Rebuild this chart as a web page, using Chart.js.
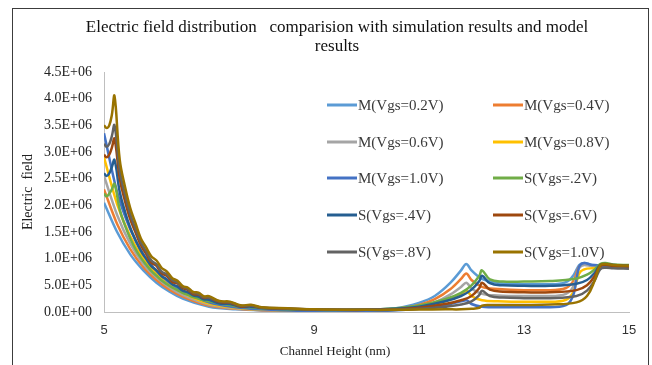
<!DOCTYPE html>
<html>
<head>
<meta charset="utf-8">
<script src="https://cdn.jsdelivr.net/npm/chart.js@4.4.0/dist/chart.umd.min.js"></script>
<style>
  html, body { margin: 0; padding: 0; background: #fff; }
</style>
</head>
<body>
<canvas id="efield" width="652" height="365"></canvas>
<script>
// channel height (nm) for the model curves and the simulation curves
const modelX = [5, 5.25, 5.5, 5.75, 6, 6.25, 6.5, 7, 7.5, 8, 9, 10, 10.5, 11, 11.3, 11.6, 11.8, 11.9, 12.0, 12.2, 12.5, 13, 13.5, 13.8, 13.95, 14.05, 14.15, 14.3, 15];
const simX = [5, 5.05, 5.1, 5.15, 5.2, 5.3, 5.4, 5.5, 5.6, 5.7, 5.8, 5.9, 6.0, 6.1, 6.2, 6.3, 6.4, 6.5, 6.6, 6.7, 6.8, 6.9, 7.0, 7.2, 7.4, 7.6, 7.8, 8, 8.5, 9, 10, 10.5, 11, 11.5, 11.8, 12.0, 12.15, 12.2, 12.35, 12.6, 13, 13.5, 14, 14.2, 14.35, 14.45, 14.55, 14.7, 15];

// electric field, in units of 1E+06
const m02 = [2.05, 1.5, 1.08, 0.78, 0.55, 0.38, 0.25, 0.1, 0.05, 0.03, 0.02, 0.03, 0.06, 0.17, 0.3, 0.55, 0.78, 0.9, 0.78, 0.62, 0.55, 0.52, 0.52, 0.56, 0.7, 0.88, 0.92, 0.88, 0.86];
const m04 = [2.3, 1.65, 1.18, 0.84, 0.6, 0.42, 0.29, 0.12, 0.06, 0.035, 0.02, 0.03, 0.05, 0.13, 0.24, 0.43, 0.62, 0.72, 0.6, 0.47, 0.43, 0.41, 0.41, 0.45, 0.6, 0.85, 0.9, 0.87, 0.86];
const m06 = [2.55, 1.82, 1.28, 0.9, 0.65, 0.46, 0.32, 0.14, 0.07, 0.04, 0.02, 0.025, 0.04, 0.1, 0.18, 0.33, 0.47, 0.55, 0.44, 0.34, 0.31, 0.3, 0.3, 0.34, 0.5, 0.82, 0.88, 0.86, 0.85];
const m08 = [2.9, 2.02, 1.42, 1.0, 0.72, 0.5, 0.36, 0.16, 0.08, 0.045, 0.02, 0.02, 0.035, 0.08, 0.13, 0.24, 0.34, 0.4, 0.3, 0.22, 0.2, 0.19, 0.19, 0.23, 0.4, 0.72, 0.8, 0.82, 0.86];
const m10 = [3.35, 2.25, 1.55, 1.08, 0.77, 0.55, 0.4, 0.18, 0.09, 0.05, 0.02, 0.02, 0.03, 0.06, 0.09, 0.15, 0.2, 0.22, 0.15, 0.1, 0.09, 0.09, 0.09, 0.13, 0.35, 0.85, 0.92, 0.88, 0.86];

const s02 = [2.22, 2.17, 2.22, 2.3, 2.4, 1.92, 1.62, 1.38, 1.18, 1.02, 0.89, 0.77, 0.68, 0.59, 0.52, 0.46, 0.41, 0.36, 0.32, 0.28, 0.25, 0.22, 0.2, 0.16, 0.13, 0.1, 0.09, 0.07, 0.05, 0.04, 0.045, 0.065, 0.12, 0.24, 0.36, 0.5, 0.68, 0.78, 0.61, 0.57, 0.57, 0.58, 0.63, 0.7, 0.8, 0.9, 0.92, 0.89, 0.88];
const s04 = [2.6, 2.55, 2.6, 2.72, 2.85, 2.25, 1.88, 1.58, 1.35, 1.15, 1.0, 0.86, 0.78, 0.67, 0.61, 0.52, 0.48, 0.4, 0.37, 0.31, 0.29, 0.24, 0.23, 0.16, 0.15, 0.1, 0.1, 0.075, 0.055, 0.045, 0.045, 0.06, 0.1, 0.2, 0.3, 0.42, 0.58, 0.68, 0.54, 0.5, 0.49, 0.49, 0.53, 0.6, 0.74, 0.88, 0.9, 0.88, 0.87];
const s06 = [2.95, 2.9, 2.95, 3.08, 3.25, 2.5, 2.08, 1.74, 1.495, 1.255, 1.095, 0.925, 0.865, 0.725, 0.675, 0.565, 0.535, 0.445, 0.415, 0.335, 0.325, 0.265, 0.265, 0.185, 0.175, 0.105, 0.115, 0.08, 0.06, 0.045, 0.04, 0.05, 0.08, 0.15, 0.22, 0.3, 0.45, 0.55, 0.42, 0.38, 0.37, 0.37, 0.41, 0.5, 0.68, 0.86, 0.88, 0.86, 0.85];
const s08 = [3.15, 3.1, 3.15, 3.3, 3.5, 2.65, 2.2, 1.83, 1.562, 1.308, 1.142, 0.968, 0.892, 0.758, 0.702, 0.598, 0.552, 0.468, 0.432, 0.358, 0.342, 0.278, 0.272, 0.198, 0.182, 0.118, 0.122, 0.085, 0.065, 0.05, 0.04, 0.045, 0.06, 0.1, 0.14, 0.2, 0.32, 0.4, 0.3, 0.27, 0.26, 0.26, 0.3, 0.4, 0.6, 0.8, 0.83, 0.82, 0.81];
const s10 = [3.5, 3.45, 3.5, 3.7, 4.05, 2.85, 2.35, 1.95, 1.665, 1.385, 1.215, 1.045, 0.965, 0.825, 0.755, 0.635, 0.585, 0.485, 0.455, 0.375, 0.365, 0.295, 0.295, 0.205, 0.195, 0.125, 0.135, 0.09, 0.07, 0.05, 0.04, 0.04, 0.045, 0.05, 0.05, 0.06, 0.08, 0.12, 0.13, 0.13, 0.13, 0.14, 0.18, 0.3, 0.6, 0.88, 0.9, 0.88, 0.87];

const seriesNames = ['M(Vgs=0.2V)', 'M(Vgs=0.4V)', 'M(Vgs=0.6V)', 'M(Vgs=0.8V)', 'M(Vgs=1.0V)',
                     'S(Vgs=.2V)', 'S(Vgs=.4V)', 'S(Vgs=.6V)', 'S(Vgs=.8V)', 'S(Vgs=1.0V)'];
const seriesValues = [m02, m04, m06, m08, m10, s02, s04, s06, s08, s10];
const seriesColors = ['#5B9BD5', '#ED7D31', '#A5A5A5', '#FFC000', '#4472C4',
                      '#70AD47', '#255E91', '#9E480E', '#636363', '#997300'];
const titleLines = ['Electric field distribution   comparision with simulation results and model', 'results'];
const yTicks = { min: 0, max: 4.5, step: 0.5 };
const xTicks = { min: 5, max: 15, step: 2 };
const UNIT = 1e6;

const datasets = seriesValues.map((vals, i) => {
  const isModel = i < 5;
  const xs = isModel ? modelX : simX;
  const ds = {
    label: seriesNames[i],
    data: vals.map((v, k) => ({ x: xs[k], y: v * UNIT })),
    borderColor: seriesColors[i],
    backgroundColor: seriesColors[i],
    borderWidth: 2.5,
    pointRadius: 0,
    order: seriesValues.length - i
  };
  if (isModel) ds.cubicInterpolationMode = 'monotone';
  else ds.tension = 0.4;
  return ds;
});

function sci(v) {
  if (Math.abs(v) < 1) return '0.0E+00';
  const e = Math.floor(Math.log10(v) + 1e-9);
  const m = v / Math.pow(10, e);
  return m.toFixed(1) + 'E+' + String(e).padStart(2, '0');
}

// title, frame, legend and x title drawn by hand to sit where the original has them
const extras = {
  id: 'extras',
  afterDatasetsDraw(chart) {
    const ctx = chart.ctx;
    ctx.save();
    ctx.textBaseline = 'middle';

    ctx.font = '17px "Liberation Serif"';
    ctx.textAlign = 'center';
    ctx.fillStyle = '#111';
    ctx.fillText(titleLines[0], 337, 28);
    ctx.fillText(titleLines[1], 337, 47);

    ctx.font = '15px "Liberation Serif"';
    ctx.textAlign = 'left';
    const colX = [327, 493];
    const rowY = [105, 142, 178, 215, 252];
    chart.data.datasets.forEach((ds, i) => {
      const x0 = colX[i % 2];
      const y0 = rowY[Math.floor(i / 2)];
      ctx.strokeStyle = ds.borderColor;
      ctx.lineWidth = 3;
      ctx.beginPath();
      ctx.moveTo(x0, y0);
      ctx.lineTo(x0 + 30, y0);
      ctx.stroke();
      ctx.fillStyle = '#3a3a3a';
      ctx.fillText(ds.label, x0 + 31, y0 + 1);
    });

    ctx.font = '13px "Liberation Serif"';
    ctx.textAlign = 'center';
    ctx.fillStyle = '#222';
    ctx.fillText('Channel Height (nm)', 335, 352);

    ctx.strokeStyle = '#3c3c3c';
    ctx.lineWidth = 1;
    ctx.strokeRect(12.5, 8.5, 636, 362);
    ctx.restore();
  }
};

new Chart(document.getElementById('efield'), {
  type: 'line',
  data: { datasets },
  plugins: [extras],
  options: {
    responsive: false,
    animation: false,
    layout: { padding: { top: 72, left: 0, right: 23, bottom: 0 } },
    plugins: {
      legend: { display: false },
      tooltip: { enabled: false },
      title: { display: false }
    },
    scales: {
      x: {
        type: 'linear',
        min: xTicks.min,
        max: xTicks.max,
        grid: { display: false, drawTicks: false },
        border: { display: true, color: '#BFBFBF', width: 1 },
        ticks: {
          stepSize: xTicks.step,
          padding: 11,
          color: '#333',
          font: { family: 'Liberation Sans', size: 13 }
        },
        afterFit(scale) { scale.height = 53; }
      },
      y: {
        min: yTicks.min * UNIT,
        max: yTicks.max * UNIT,
        grid: { display: false, drawTicks: false },
        border: { display: true, color: '#BFBFBF', width: 1 },
        ticks: {
          stepSize: yTicks.step * UNIT,
          padding: 12,
          color: '#222',
          font: { family: 'Liberation Serif', size: 14 },
          callback: (v) => sci(v)
        },
        title: {
          display: true,
          text: 'Electric  field',
          color: '#222',
          font: { family: 'Liberation Serif', size: 14 },
          padding: { top: 20, bottom: 0 }
        },
        afterFit(scale) { scale.width = 104; }
      }
    }
  }
});
</script>
</body>
</html>
